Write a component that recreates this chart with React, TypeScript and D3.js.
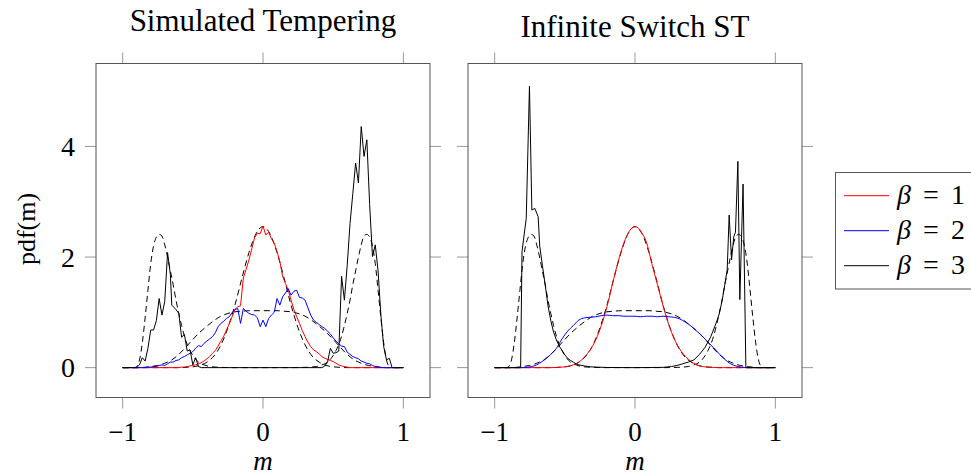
import React from "react";
import * as d3 from "d3";

type Pt = [number, number];

const panelTitles = ["Simulated Tempering", "Infinite Switch ST"];
const xTicks = [-1, 0, 1];
const yTicks = [0, 2, 4];
const betaNames = ["1", "2", "3"];
const betaColors = ["#ff0000", "#0000ff", "#000000"];

// simulated tempering histograms (m, pdf)
const stBeta1: Pt[] = [
  [-1, 0], [-0.6, 0], [-0.58, 0.01], [-0.56, 0.01], [-0.54, 0.02], [-0.52, 0.03], [-0.5, 0.04],
  [-0.48, 0.05], [-0.46, 0.07], [-0.44, 0.09], [-0.42, 0.12], [-0.4, 0.16], [-0.38, 0.2],
  [-0.36, 0.26], [-0.34, 0.31], [-0.32, 0.39], [-0.3, 0.48], [-0.28, 0.57], [-0.26, 0.68],
  [-0.24, 0.8], [-0.22, 0.92], [-0.2, 1.05], [-0.18, 1.1], [-0.16, 1.12], [-0.14, 1.62],
  [-0.12, 1.78], [-0.1, 1.95], [-0.08, 2.15], [-0.06, 2.35], [-0.04, 2.43], [-0.02, 2.42],
  [0, 2.56], [0.02, 2.4], [0.04, 2.45], [0.06, 2.33], [0.08, 2.25], [0.1, 2.1], [0.12, 1.92],
  [0.14, 1.65], [0.16, 1.52], [0.18, 1.4], [0.2, 1.22], [0.22, 1.05], [0.24, 0.92], [0.26, 0.8],
  [0.28, 0.67], [0.3, 0.56], [0.32, 0.46], [0.34, 0.38], [0.36, 0.32], [0.38, 0.29], [0.4, 0.25],
  [0.42, 0.2], [0.44, 0.17], [0.46, 0.15], [0.48, 0.13], [0.5, 0.11], [0.52, 0.08], [0.54, 0.05],
  [0.56, 0.03], [0.58, 0.02], [0.6, 0.01], [0.62, 0], [1, 0],
];
const stBeta2: Pt[] = [
  [-1, 0], [-0.84, 0], [-0.82, 0.01], [-0.8, 0.01], [-0.78, 0.02], [-0.76, 0.02], [-0.74, 0.04],
  [-0.72, 0.05], [-0.7, 0.04], [-0.68, 0.07], [-0.66, 0.1], [-0.64, 0.1], [-0.62, 0.13],
  [-0.6, 0.14], [-0.58, 0.18], [-0.56, 0.2], [-0.54, 0.23], [-0.52, 0.26], [-0.5, 0.29],
  [-0.48, 0.35], [-0.46, 0.4], [-0.44, 0.38], [-0.42, 0.44], [-0.4, 0.48], [-0.38, 0.52],
  [-0.36, 0.56], [-0.34, 0.63], [-0.32, 0.74], [-0.3, 0.8], [-0.28, 0.84], [-0.26, 0.89],
  [-0.24, 0.92], [-0.22, 1.0], [-0.2, 1.05], [-0.18, 1.07], [-0.16, 0.8], [-0.14, 1.07],
  [-0.12, 1.02], [-0.1, 0.98], [-0.08, 0.96], [-0.06, 0.95], [-0.04, 0.9], [-0.02, 0.74],
  [0, 0.86], [0.02, 0.74], [0.04, 0.89], [0.06, 0.95], [0.08, 1.0], [0.1, 1.25], [0.12, 1.13],
  [0.14, 1.28], [0.16, 1.35], [0.18, 1.43], [0.2, 1.31], [0.22, 1.38], [0.24, 1.4], [0.26, 1.27],
  [0.28, 1.26], [0.3, 1.22], [0.32, 1.08], [0.34, 0.95], [0.36, 0.86], [0.38, 0.82], [0.4, 0.78],
  [0.42, 0.74], [0.44, 0.71], [0.46, 0.66], [0.48, 0.61], [0.5, 0.54], [0.52, 0.48], [0.54, 0.43],
  [0.56, 0.39], [0.58, 0.38], [0.6, 0.28], [0.62, 0.24], [0.64, 0.2], [0.66, 0.18], [0.68, 0.16],
  [0.7, 0.12], [0.72, 0.1], [0.74, 0.08], [0.76, 0.07], [0.78, 0.04], [0.8, 0.02], [0.82, 0.01],
  [0.84, 0], [1, 0],
];
const stBeta3: Pt[] = [
  [-1, 0], [-0.9, 0], [-0.88, 0.05], [-0.86, 0.18], [-0.84, 0.12], [-0.82, 0.35], [-0.8, 0.68],
  [-0.78, 0.68], [-0.76, 0.85], [-0.74, 1.25], [-0.72, 0.95], [-0.7, 1.2], [-0.68, 2.08],
  [-0.66, 1.68], [-0.65, 1.13], [-0.62, 1.05], [-0.6, 0.98], [-0.58, 0.55], [-0.56, 0.6],
  [-0.54, 0.3], [-0.52, 0.32], [-0.5, 0.05], [-0.48, 0.18], [-0.46, 0.02], [-0.44, 0],
  [0.42, 0], [0.44, 0.03], [0.46, 0.1], [0.48, 0.35], [0.5, 0.26], [0.52, 0.27], [0.54, 0.3],
  [0.56, 1.65], [0.58, 1.22], [0.6, 1.85], [0.62, 2.6], [0.64, 3.15], [0.66, 3.7], [0.68, 3.34],
  [0.7, 4.36], [0.72, 3.82], [0.74, 4.12], [0.76, 2.95], [0.78, 2.01], [0.8, 2.22], [0.82, 1.75],
  [0.84, 0.95], [0.86, 0.38], [0.88, 0.14], [0.9, 0.17], [0.92, 0], [1, 0],
];

// infinite switch ST histograms
const isBeta1: Pt[] = [
  [-1, 0], [-0.6, 0], [-0.52, 0.01], [-0.48, 0.02], [-0.44, 0.05], [-0.4, 0.1], [-0.36, 0.19],
  [-0.32, 0.32], [-0.28, 0.5], [-0.24, 0.76], [-0.2, 1.1], [-0.16, 1.52], [-0.12, 1.92],
  [-0.08, 2.25], [-0.04, 2.47], [0, 2.55], [0.03, 2.51], [0.05, 2.43], [0.08, 2.28], [0.12, 1.88],
  [0.16, 1.5], [0.2, 1.12], [0.24, 0.78], [0.28, 0.52], [0.32, 0.33], [0.36, 0.2], [0.4, 0.11],
  [0.44, 0.05], [0.48, 0.02], [0.52, 0.01], [0.6, 0], [1, 0],
];
const isBeta2: Pt[] = [
  [-1, 0], [-0.8, 0], [-0.76, 0.01], [-0.72, 0.03], [-0.68, 0.08], [-0.64, 0.15], [-0.6, 0.24],
  [-0.56, 0.35], [-0.52, 0.52], [-0.48, 0.66], [-0.44, 0.76], [-0.4, 0.86], [-0.36, 0.9],
  [-0.32, 0.91], [-0.28, 0.92], [-0.24, 0.94], [-0.2, 0.95], [-0.16, 0.94], [-0.12, 0.94],
  [-0.08, 0.93], [-0.04, 0.93], [0, 0.93], [0.04, 0.92], [0.08, 0.93], [0.12, 0.93], [0.16, 0.92],
  [0.2, 0.93], [0.24, 0.92], [0.28, 0.91], [0.32, 0.88], [0.36, 0.82], [0.4, 0.75], [0.44, 0.66],
  [0.48, 0.57], [0.52, 0.46], [0.56, 0.36], [0.6, 0.25], [0.64, 0.15], [0.68, 0.07], [0.72, 0.03],
  [0.76, 0.01], [0.8, 0], [1, 0],
];
const isBeta3: Pt[] = [
  [-1, 0], [-0.815, 0], [-0.805, 2.1], [-0.775, 2.7], [-0.752, 5.09], [-0.735, 2.85],
  [-0.714, 2.88], [-0.69, 2.73], [-0.679, 2.2], [-0.66, 1.85], [-0.64, 1.5], [-0.62, 1.12],
  [-0.6, 0.85], [-0.58, 0.64], [-0.56, 0.5], [-0.54, 0.39], [-0.52, 0.31], [-0.5, 0.23],
  [-0.48, 0.17], [-0.46, 0.13], [-0.44, 0.1], [-0.42, 0.07], [-0.4, 0.05], [-0.36, 0.03],
  [-0.32, 0.015], [-0.28, 0.01], [-0.2, 0.003], [0, 0], [0.2, 0.005], [0.26, 0.02], [0.3, 0.04],
  [0.34, 0.07], [0.38, 0.1], [0.42, 0.14], [0.46, 0.24], [0.5, 0.37], [0.54, 0.56], [0.58, 0.82],
  [0.6, 0.97], [0.62, 1.2], [0.64, 1.5], [0.657, 1.77], [0.671, 2.76], [0.688, 1.95],
  [0.704, 2.37], [0.716, 2.45], [0.733, 3.73], [0.747, 1.23], [0.77, 3.32], [0.79, 0], [1, 0],
];

// reference densities (dashed)
const refBeta1: Pt[] = [
  [-1, 0], [-0.6, 0], [-0.55, 0.005], [-0.5, 0.015], [-0.45, 0.04], [-0.4, 0.1], [-0.35, 0.21],
  [-0.3, 0.41], [-0.25, 0.72], [-0.2, 1.13], [-0.15, 1.62], [-0.1, 2.08], [-0.05, 2.42], [0, 2.55],
  [0.05, 2.42], [0.1, 2.08], [0.15, 1.62], [0.2, 1.13], [0.25, 0.72], [0.3, 0.41], [0.35, 0.21],
  [0.4, 0.1], [0.45, 0.04], [0.5, 0.015], [0.55, 0.005], [0.6, 0], [1, 0],
];
const refBeta2: Pt[] = [
  [-1, 0], [-0.9, 0], [-0.85, 0.005], [-0.8, 0.02], [-0.75, 0.04], [-0.7, 0.08], [-0.65, 0.14],
  [-0.6, 0.24], [-0.55, 0.37], [-0.5, 0.51], [-0.45, 0.64], [-0.4, 0.75], [-0.35, 0.85],
  [-0.3, 0.93], [-0.25, 0.98], [-0.2, 1.01], [-0.15, 1.02], [-0.1, 1.03], [0, 1.03], [0.1, 1.03],
  [0.15, 1.02], [0.2, 1.01], [0.25, 0.98], [0.3, 0.93], [0.35, 0.85], [0.4, 0.75], [0.45, 0.64],
  [0.5, 0.51], [0.55, 0.37], [0.6, 0.24], [0.65, 0.14], [0.7, 0.08], [0.75, 0.04], [0.8, 0.02],
  [0.85, 0.005], [0.9, 0], [1, 0],
];
const refBeta3: Pt[] = [
  [-1, 0], [-0.92, 0], [-0.9, 0.02], [-0.88, 0.14], [-0.86, 0.45], [-0.84, 0.9], [-0.82, 1.4],
  [-0.8, 1.88], [-0.78, 2.2], [-0.76, 2.36], [-0.74, 2.41], [-0.72, 2.38], [-0.7, 2.22],
  [-0.68, 2.0], [-0.66, 1.75], [-0.64, 1.5], [-0.62, 1.22], [-0.6, 0.98], [-0.58, 0.76],
  [-0.56, 0.57], [-0.54, 0.42], [-0.52, 0.31], [-0.5, 0.22], [-0.46, 0.1], [-0.42, 0.05],
  [-0.38, 0.02], [-0.3, 0.005], [-0.2, 0], [0.2, 0], [0.3, 0.005], [0.38, 0.02], [0.42, 0.05],
  [0.46, 0.1], [0.5, 0.22], [0.52, 0.31], [0.54, 0.42], [0.56, 0.57], [0.58, 0.76], [0.6, 0.98],
  [0.62, 1.22], [0.64, 1.5], [0.66, 1.75], [0.68, 2.0], [0.7, 2.22], [0.72, 2.38], [0.74, 2.41],
  [0.76, 2.36], [0.78, 2.2], [0.8, 1.88], [0.82, 1.4], [0.84, 0.9], [0.86, 0.45], [0.88, 0.14],
  [0.9, 0.02], [0.92, 0], [1, 0],
];

const panelSeries = [
  { hist: [stBeta1, stBeta2, stBeta3], smooth: false },
  { hist: [isBeta1, isBeta2, isBeta3], smooth: true },
];
const refSeries = [refBeta1, refBeta2, refBeta3];

const serif = { fontFamily: "'Liberation Serif', 'DejaVu Serif', serif" };
const frameColor = "#555";
const tickColor = "#999";

const panelLeft = [96, 468];
const panelW = 334;
const plotTop = 63.5;
const plotBottom = 397.5;

export default function App() {
  const y = d3.scaleLinear().domain([-0.54, 5.5]).range([plotBottom, plotTop]);

  return (
    <svg
      width={971}
      height={476}
      style={{ position: "absolute", left: 0, top: 0, background: "#fff" }}
    >
      {panelLeft.map((left, p) => {
        const x = d3.scaleLinear().domain([-1.19, 1.19]).range([left, left + panelW]);
        const lineLin = d3.line<Pt>().x((d) => x(d[0])).y((d) => y(d[1]));
        const lineSmooth = d3
          .line<Pt>()
          .x((d) => x(d[0]))
          .y((d) => y(d[1]))
          .curve(d3.curveMonotoneX);
        const { hist, smooth } = panelSeries[p];
        return (
          <g key={p}>
            <text x={left + panelW / 2} y={p === 0 ? 31 : 37} textAnchor="middle" fontSize={31} style={serif}>
              {panelTitles[p]}
            </text>
            {/* ticks */}
            {xTicks.map((t) => (
              <g key={"x" + t} stroke={tickColor} strokeWidth={1}>
                <line x1={x(t)} x2={x(t)} y1={plotTop - 11} y2={plotTop} />
                <line x1={x(t)} x2={x(t)} y1={plotBottom} y2={plotBottom + 11} />
              </g>
            ))}
            {yTicks.map((t) => (
              <g key={"y" + t} stroke={tickColor} strokeWidth={1}>
                <line x1={left - 11} x2={left} y1={y(t)} y2={y(t)} />
                <line x1={left + panelW} x2={left + panelW + 11} y1={y(t)} y2={y(t)} />
              </g>
            ))}
            {xTicks.map((t) => (
              <text key={"xl" + t} x={x(t)} y={441} textAnchor="middle" fontSize={27} style={serif}>
                {t < 0 ? "\u2212" + Math.abs(t) : String(t)}
              </text>
            ))}
            <text x={left + panelW / 2} y={470} textAnchor="middle" fontSize={27} fontStyle="italic" style={serif}>
              m
            </text>
            {p === 0 &&
              yTicks.map((t) => (
                <text key={"yl" + t} x={75} y={y(t) + 9.5} textAnchor="end" fontSize={28} style={serif}>
                  {t}
                </text>
              ))}
            {/* data */}
            {refSeries.map((s, i) => (
              <path
                key={"r" + i}
                d={lineSmooth(s) || ""}
                fill="none"
                stroke="#000"
                strokeWidth={1}
                strokeDasharray="6,4"
              />
            ))}
            {hist.map((s, i) => (
              <path
                key={"h" + i}
                d={(smooth && i < 2 ? lineSmooth(s) : lineLin(s)) || ""}
                fill="none"
                stroke={betaColors[i]}
                strokeWidth={1}
                strokeLinejoin="round"
              />
            ))}
            <rect
              x={left}
              y={plotTop}
              width={panelW}
              height={plotBottom - plotTop}
              fill="none"
              stroke={frameColor}
              strokeWidth={1}
            />
          </g>
        );
      })}
      <text transform="translate(35,229) rotate(-90)" textAnchor="middle" fontSize={26} style={serif}>
        pdf(m)
      </text>
      {/* legend */}
      <rect x={835.5} y={172.5} width={150} height={116.5} fill="#fff" stroke={frameColor} strokeWidth={1} />
      {betaNames.map((b, i) => {
        const ly = 195.7 + i * 35;
        return (
          <g key={b}>
            <line x1={844} x2={889} y1={ly} y2={ly} stroke={betaColors[i]} strokeWidth={1} />
            <text y={ly + 8.5} fontSize={28} style={serif}>
              <tspan x={897} fontStyle="italic">β</tspan>
              <tspan x={923}>=</tspan>
              <tspan x={951}>{b}</tspan>
            </text>
          </g>
        );
      })}
    </svg>
  );
}
